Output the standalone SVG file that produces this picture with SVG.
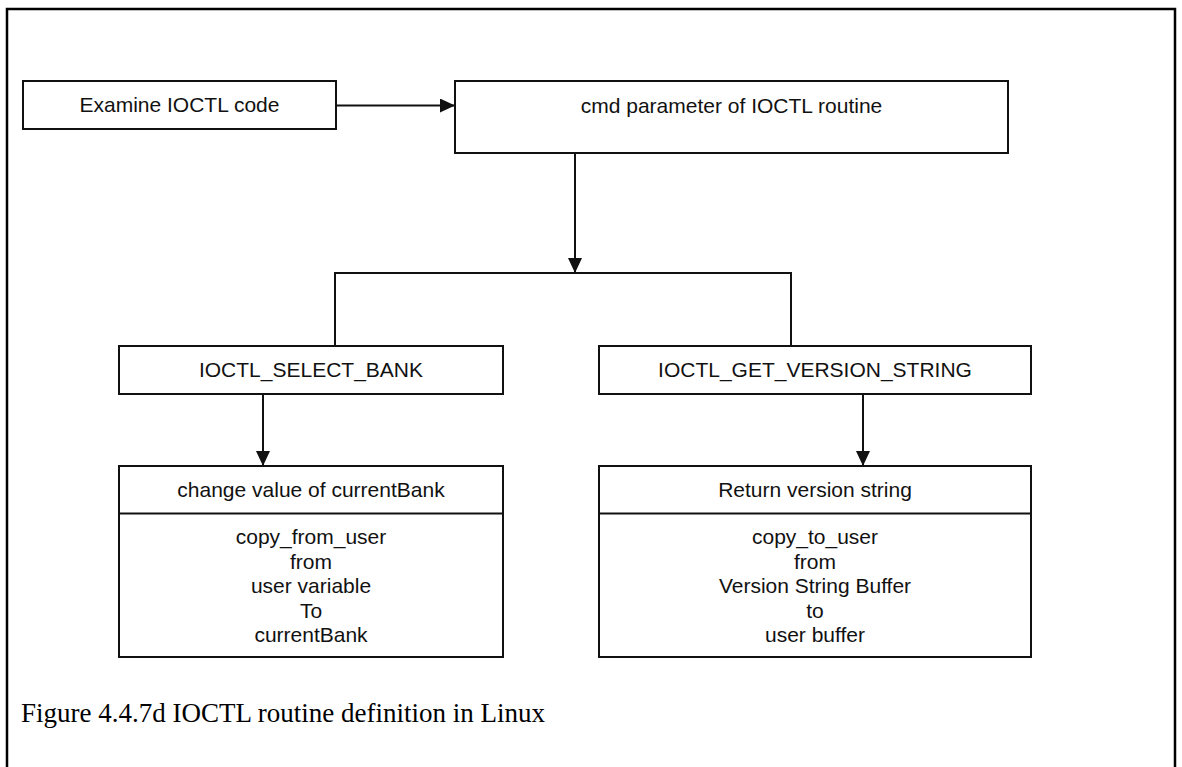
<svg xmlns="http://www.w3.org/2000/svg" width="1182" height="767" viewBox="0 0 1182 767">
<style>
.box{fill:#fff;stroke:#111;stroke-width:2}
.ln{fill:none;stroke:#111;stroke-width:2}
.t{font-family:"Liberation Sans",Arial,sans-serif;font-size:21px;fill:#111;text-anchor:middle}
.cap{font-family:"Liberation Serif","Times New Roman",serif;font-size:27px;fill:#000}
</style>
<defs>
<marker id="arr" viewBox="0 0 15 14" refX="15" refY="7" markerWidth="15" markerHeight="14" markerUnits="userSpaceOnUse" orient="auto">
<path d="M0,0 L15,7 L0,14 Z" fill="#111"/>
</marker>
</defs>
<rect x="0" y="0" width="1182" height="767" fill="#fff"/>
<path d="M7,780 V9 H1175 V780" fill="none" stroke="#000" stroke-width="2.5"/>
<g id="connectors">
<line class="ln" x1="336" y1="105.5" x2="455" y2="105.5" marker-end="url(#arr)"/>
<line class="ln" x1="575" y1="153" x2="575" y2="273" marker-end="url(#arr)"/>
<path class="ln" d="M335,346 V273 H791 V346"/>
<line class="ln" x1="263" y1="394" x2="263" y2="466" marker-end="url(#arr)"/>
<line class="ln" x1="863" y1="394" x2="863" y2="466" marker-end="url(#arr)"/>
</g>
<g id="examine">
<rect class="box" x="23" y="81" width="313" height="48"/>
<text class="t" x="179.5" y="112">Examine IOCTL code</text>
</g>
<g id="cmd">
<rect class="box" x="455" y="81" width="553" height="72"/>
<text class="t" x="731.5" y="112.5">cmd parameter of IOCTL routine</text>
</g>
<g id="select">
<rect class="box" x="119" y="346" width="384" height="48"/>
<text class="t" x="311" y="376.5">IOCTL_SELECT_BANK</text>
</g>
<g id="getver">
<rect class="box" x="599" y="346" width="432" height="48"/>
<text class="t" x="815" y="376.5">IOCTL_GET_VERSION_STRING</text>
</g>
<g id="change">
<rect class="box" x="119" y="466" width="384" height="191"/>
<line class="ln" x1="119" y1="513.5" x2="503" y2="513.5"/>
<text class="t" x="311" y="496.5">change value of currentBank</text>
<text class="t" x="311" y="544">copy_from_user</text>
<text class="t" x="311" y="568.5">from</text>
<text class="t" x="311" y="593">user variable</text>
<text class="t" x="311" y="617.5">To</text>
<text class="t" x="311" y="642">currentBank</text>
</g>
<g id="retver">
<rect class="box" x="599" y="466" width="432" height="191"/>
<line class="ln" x1="599" y1="513.5" x2="1031" y2="513.5"/>
<text class="t" x="815" y="496.5">Return version string</text>
<text class="t" x="815" y="544">copy_to_user</text>
<text class="t" x="815" y="568.5">from</text>
<text class="t" x="815" y="593">Version String Buffer</text>
<text class="t" x="815" y="617.5">to</text>
<text class="t" x="815" y="642">user buffer</text>
</g>
<text class="cap" x="21" y="722">Figure 4.4.7d IOCTL routine definition in Linux</text>
</svg>
